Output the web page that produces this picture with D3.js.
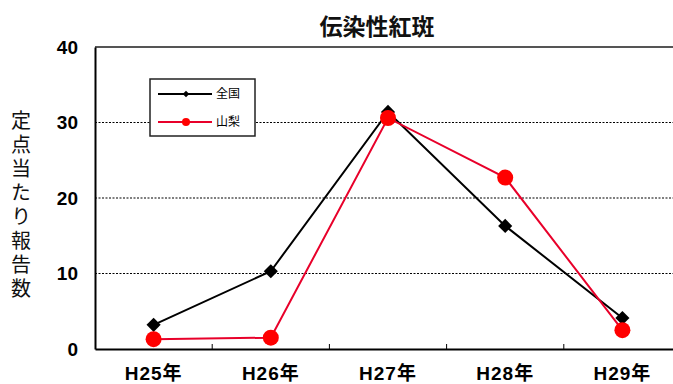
<!DOCTYPE html>
<html>
<head>
<meta charset="utf-8">
<script src="https://cdn.jsdelivr.net/npm/d3@7/dist/d3.min.js"></script>
<style>
  html, body { margin: 0; padding: 0; background: #fff; }
  svg { display: block; }
</style>
</head>
<body>
<script>
// Reports per sentinel site, erythema infectiosum
const categories = ["H25年", "H26年", "H27年", "H28年", "H29年"];
const national = [3.2, 10.3, 31.4, 16.3, 4.1];   // 全国
const yamanashi = [1.3, 1.5, 30.6, 22.7, 2.5];   // 山梨
const yTicks = [0, 10, 20, 30, 40];
const seriesNames = ["全国", "山梨"];

const W = 673, H = 384;
const plot = { left: 95, right: 681, top: 47, bottom: 349 };

const svg = d3.select("body").append("svg").attr("width", W).attr("height", H);

const x = d3.scaleBand().domain(categories).range([plot.left, plot.right]).paddingInner(0).paddingOuter(0);
const y = d3.scaleLinear().domain([0, 40]).range([plot.bottom, plot.top]);
const cx = d => x(d) + x.bandwidth() / 2;

// gridlines
svg.append("g").selectAll("line").data(yTicks.filter(t => t > 0 && t < 40)).join("line")
  .attr("x1", plot.left).attr("x2", plot.right)
  .attr("y1", d => y(d)).attr("y2", d => y(d))
  .attr("stroke", "#000").attr("stroke-width", 1.2).attr("stroke-dasharray", "2,1.5");

// top border
svg.append("line").attr("x1", plot.left).attr("x2", plot.right)
  .attr("y1", y(40)).attr("y2", y(40)).attr("stroke", "#555").attr("stroke-width", 2);

// y axis
const yAxis = d3.axisLeft(y).tickValues(yTicks).tickSize(0).tickPadding(17);
const gy = svg.append("g").attr("transform", `translate(${plot.left},0)`).call(yAxis);
gy.select(".domain").attr("stroke", "#000").attr("stroke-width", 2);
gy.selectAll("text").attr("font-family", "Liberation Sans, Arial, sans-serif")
  .attr("font-size", 19).attr("font-weight", "bold").attr("fill", "#000");

// x axis
const xAxis = d3.axisBottom(x).tickSize(0).tickPadding(17);
const gx = svg.append("g").attr("transform", `translate(0,${plot.bottom})`).call(xAxis);
gx.select(".domain").attr("stroke", "#000").attr("stroke-width", 2);
gx.selectAll("text").attr("font-family", "Liberation Sans, 'Noto Sans CJK JP', sans-serif")
  .attr("font-size", 19).attr("font-weight", "bold").attr("fill", "#000")
  .attr("letter-spacing", 1).attr("dy", "0.75em");
// category boundary ticks
svg.append("g").selectAll("line").data(categories.slice(1)).join("line")
  .attr("x1", d => x(d)).attr("x2", d => x(d))
  .attr("y1", plot.bottom - 5).attr("y2", plot.bottom + 1)
  .attr("stroke", "#000").attr("stroke-width", 1);

// title
svg.append("text").attr("x", 377).attr("y", 35).attr("text-anchor", "middle")
  .attr("font-family", "'Noto Sans CJK JP', sans-serif").attr("font-size", 23)
  .attr("font-weight", "bold").attr("fill", "#111").text("伝染性紅斑");

// vertical y-axis title
svg.append("text").attr("x", 21).attr("y", 110)
  .style("writing-mode", "vertical-rl")
  .attr("letter-spacing", 4)
  .attr("font-family", "'Noto Sans CJK JP', sans-serif").attr("font-size", 20)
  .attr("fill", "#111").text("定点当たり報告数");

// lines
const line = d3.line().x((d, i) => cx(categories[i])).y(d => y(d));
svg.append("path").datum(national).attr("d", line)
  .attr("fill", "none").attr("stroke", "#000").attr("stroke-width", 2);
svg.append("path").datum(yamanashi).attr("d", line)
  .attr("fill", "none").attr("stroke", "#e8002a").attr("stroke-width", 2);

// markers
svg.append("g").selectAll("path").data(national).join("path")
  .attr("d", d3.symbol().type(d3.symbolSquare).size(100))
  .attr("transform", (d, i) => `translate(${cx(categories[i])},${y(d)}) rotate(45)`)
  .attr("fill", "#000");
svg.append("g").selectAll("circle").data(yamanashi).join("circle")
  .attr("cx", (d, i) => cx(categories[i])).attr("cy", d => y(d)).attr("r", 8)
  .attr("fill", "#ff0000");

// legend
const lg = svg.append("g");
lg.append("rect").attr("x", 150).attr("y", 79).attr("width", 105).attr("height", 57)
  .attr("fill", "#fff").attr("stroke", "#222").attr("stroke-width", 1.5);
const legendItems = [
  { name: seriesNames[0], color: "#000", yy: 94, marker: "diamond" },
  { name: seriesNames[1], color: "#e8002a", yy: 122, marker: "circle" }
];
legendItems.forEach(it => {
  lg.append("line").attr("x1", 158).attr("x2", 212).attr("y1", it.yy).attr("y2", it.yy)
    .attr("stroke", it.color).attr("stroke-width", 2);
  if (it.marker === "diamond") {
    lg.append("path").attr("d", d3.symbol().type(d3.symbolSquare).size(22))
      .attr("transform", `translate(186,${it.yy}) rotate(45)`).attr("fill", "#000");
  } else {
    lg.append("circle").attr("cx", 186).attr("cy", it.yy).attr("r", 4).attr("fill", "#ff0000");
  }
  lg.append("text").attr("x", 216).attr("y", it.yy + 4)
    .attr("font-family", "'Noto Sans CJK JP', sans-serif").attr("font-size", 12)
    .attr("fill", "#000").text(it.name);
});
</script>
</body>
</html>
